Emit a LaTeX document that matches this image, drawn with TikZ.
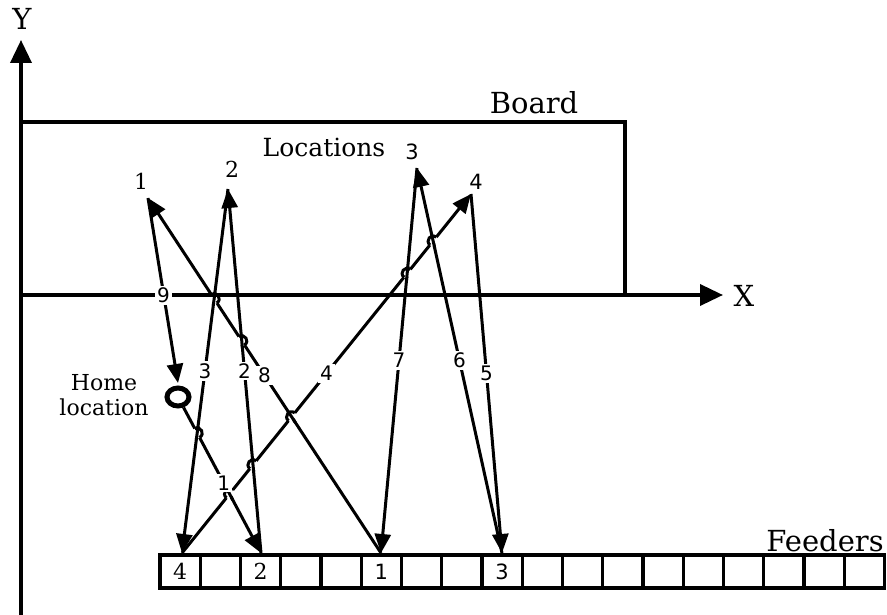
\documentclass[tikz,border=0pt]{standalone}
\usepackage{fontspec}
\setmainfont{DejaVu Serif}
\setsansfont{DejaVu Sans}
\usetikzlibrary{arrows.meta,calc,shapes.geometric}

% Line jump: #1 crossing point, #2/#3 ends of the jumping line,
% #4/#5 ends of the line that is jumped over, #6 side of the bump (90 or -90)
\newcommand\linejump[6]{%
  \pgfmathsetmacro\jumpopp{-1*(#6)}%
  \coordinate (jA) at ($(#1)!5pt!(#2)$);
  \coordinate (jB) at ($(#1)!5pt!(#3)$);
  \draw[white,line width=6pt] (jA) -- (jB);
  \draw[wire] ($(#1)!7pt!(#4)$) -- ($(#1)!7pt!(#5)$);
  \draw[wire] (jA) .. controls ($(jA)!6.7pt!#6:(jB)$) and ($(jB)!6.7pt!\jumpopp:(jA)$) .. (jB);
}

\begin{document}
\begin{tikzpicture}[x=1pt,y=-1pt,
  wire/.style={line width=3pt,line cap=butt},
  move/.style={wire,-{Triangle[length=19pt,width=16pt]}},
  axisline/.style={line width=3.6pt,-{Triangle[length=23pt,width=21pt]}},
  frame/.style={line width=3.6pt},
  cell/.style={draw,line width=3.4pt,minimum width=40.25pt,minimum height=33pt,inner sep=0pt},
  serifnum/.style={font=\fontsize{22}{22}\selectfont},
  sansnum/.style={font=\sffamily\fontsize{21}{21}\selectfont},
  steplabel/.style={fill=white,inner sep=2pt,font=\sffamily\fontsize{20}{20}\selectfont},
  title/.style={font=\fontsize{29}{29}\selectfont,inner sep=0pt},
]
\useasboundingbox (0,0) rectangle (887,615);

% feeder slots
\foreach \i in {0,...,17}
  \node[cell] (f\i) at ({180.1+40.25*\i},571.5) {};
\node[serifnum] (n4) at (f0) {4};
\node[serifnum] (n2) at (f2) {2};
\node[sansnum] (n1) at (f5) {1};
\node[sansnum] (n3) at (f8) {3};

% pick-up points on the feeders
\coordinate (t4) at (182,553);
\coordinate (t2) at (261,553);
\coordinate (t1) at (381,553);
\coordinate (t3) at (502,553);

% placement locations on the board
\coordinate (L1) at (148,198);
\coordinate (L2) at (228,189);
\coordinate (L3) at (417,168);
\coordinate (L4) at (471,194);

% home location
\node[draw,ellipse,line width=5pt,minimum width=22pt,minimum height=18pt,inner sep=0pt] (home) at (178,397) {};

% moves of the placement head
\draw[move] (home) -- (t2);
\draw[move] (t2) -- (L2);
\draw[move] (L2) -- (t4);
\draw[move] (t4) -- (L4);
\draw[move] (L4) -- (t3);
\draw[move] (t3) -- (L3);
\draw[move] (L3) -- (t1);
\draw[move] (t1) -- (L1);
\draw[move] (L1) -- ([yshift=2.5pt]home.north);

% line jumps at crossings
\coordinate (c13) at (intersection of home--t2 and L2--t4);
\linejump{c13}{home}{t2}{L2}{t4}{90}
\coordinate (c83) at (intersection of t1--L1 and L2--t4);
\linejump{c83}{t1}{L1}{L2}{t4}{-90}
\coordinate (c82) at (intersection of t1--L1 and t2--L2);
\linejump{c82}{t1}{L1}{t2}{L2}{-90}
\coordinate (c41) at (intersection of t4--L4 and home--t2);
\linejump{c41}{t4}{L4}{home}{t2}{90}
\coordinate (c42) at (intersection of t4--L4 and t2--L2);
\linejump{c42}{t4}{L4}{t2}{L2}{90}
\coordinate (c48) at (intersection of t4--L4 and t1--L1);
\linejump{c48}{t4}{L4}{t1}{L1}{90}
\coordinate (c47) at (intersection of t4--L4 and L3--t1);
\linejump{c47}{t4}{L4}{L3}{t1}{90}
\coordinate (c46) at (intersection of t4--L4 and t3--L3);
\linejump{c46}{t4}{L4}{t3}{L3}{90}

% axes and board outline
\coordinate (ybot) at (21,615);
\coordinate (ytip) at (21,40);
\coordinate (xorg) at (21,295);
\coordinate (xtip) at (723,295);
\coordinate (bTL) at (21,122);
\coordinate (bTR) at (625,122);
\coordinate (bBR) at (625,295);
\draw[axisline] (ybot) -- (ytip);
\draw[axisline] (xorg) -- (xtip);
\draw[frame] (bTL) -- (bTR) -- (bBR);

% move numbers
\node[steplabel] (s1) at ($(home)!.55!(t2)$) {1};
\node[steplabel] (s2) at ($(t2)!.5!(L2)$) {2};
\node[steplabel] (s3) at ($(L2)!.5!(t4)$) {3};
\node[steplabel] (s4) at ($(t4)!.5!(L4)$) {4};
\node[steplabel] (s5) at ($(L4)!.5!(t3)$) {5};
\node[steplabel] (s6) at ($(t3)!.5!(L3)$) {6};
\node[steplabel] (s7) at ($(L3)!.5!(t1)$) {7};
\node[steplabel] (s8) at ($(t1)!.5!(L1)$) {8};
\node[steplabel] (s9) at ($(L1)!.52!(home.north)$) {9};

% location numbers
\node[serifnum] (l1) at (141,181) {1};
\node[serifnum] (l2) at (232,169) {2};
\node[sansnum] (l3) at (412,152) {3};
\node[sansnum] (l4) at (476,182) {4};

% titles
\node[title] (ylab) at (22,19) {Y};
\node[title] (xlab) at (744,296) {X};
\node[title] (board) at (534,103) {Board};
\node[title,font=\fontsize{25}{25}\selectfont] (locs) at (324,147) {Locations};
\node[title] (feeders) at (825,541) {Feeders};
\node[align=center,font=\fontsize{22}{25}\selectfont,inner sep=0pt] (homelab) at (104,395) {Home\\location};
\end{tikzpicture}
\end{document}
